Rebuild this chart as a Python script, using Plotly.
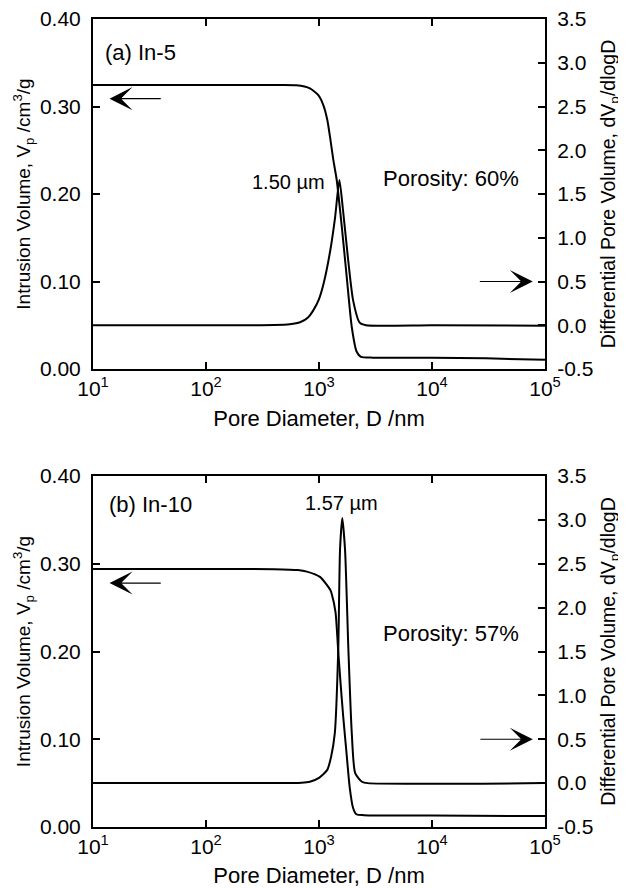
import numpy as np
import plotly.graph_objects as go

# Panel (a) In-5
diam_a_vol = [10, 100, 400, 630, 830, 986, 1092, 1185, 1251, 1339, 1435, 1590, 1760, 1950, 2150, 2350, 3000, 10000, 30000, 100000]
vol_a = [0.3246, 0.3246, 0.3245, 0.3242, 0.3208, 0.313, 0.3017, 0.2846, 0.2655, 0.2389, 0.216, 0.163, 0.105, 0.048, 0.020, 0.014, 0.013, 0.0128, 0.0122, 0.0105]

diam_a_dif = [10, 200, 400, 550, 680, 800, 890, 1000, 1100, 1260, 1390, 1515, 1630, 1810, 2000, 2290, 2600, 10000, 100000]
dif_a = [0.0, 0.0, 0.003, 0.012, 0.035, 0.09, 0.17, 0.30, 0.48, 0.86, 1.24, 1.66, 1.32, 0.75, 0.29, 0.03, 0.0, 0.0, -0.005]

# Panel (b) In-10
diam_b_vol = [10, 100, 400, 650, 780, 1020, 1260, 1300, 1400, 1480, 1560, 1640, 1750, 1870, 2000, 2140, 2500, 10000, 100000]
vol_b = [0.294, 0.294, 0.2938, 0.2928, 0.291, 0.285, 0.270, 0.265, 0.245, 0.200, 0.160, 0.125, 0.085, 0.045, 0.022, 0.0145, 0.0135, 0.013, 0.0125]

diam_b_dif = [10, 400, 700, 830, 1000, 1180, 1280, 1380, 1480, 1535, 1607, 1700, 1820, 1950, 2090, 2400, 2700, 100000]
dif_b = [0.0, 0.0, 0.005, 0.016, 0.06, 0.148, 0.30, 0.57, 1.52, 2.66, 3.02, 2.66, 1.52, 0.57, 0.114, 0.016, 0.0, 0.0]

x_ticks = [10, 100, 1000, 10000, 100000]
x_ticktext = ["10<sup>1</sup>", "10<sup>2</sup>", "10<sup>3</sup>", "10<sup>4</sup>", "10<sup>5</sup>"]
vol_ticks = [0.0, 0.1, 0.2, 0.3, 0.4]
vol_ticktext = ["0.00", "0.10", "0.20", "0.30", "0.40"]
dif_ticks = [-0.5, 0.0, 0.5, 1.0, 1.5, 2.0, 2.5, 3.0, 3.5]
dif_ticktext = ["-0.5", "0.0", "0.5", "1.0", "1.5", "2.0", "2.5", "3.0", "3.5"]

FONT = "Liberation Sans, Arial, sans-serif"
LINE = dict(color="black", width=2, shape="spline", smoothing=0.6)

fig = go.Figure()
fig.add_trace(go.Scatter(x=diam_a_vol, y=vol_a, mode="lines", line=LINE, xaxis="x", yaxis="y", showlegend=False))
fig.add_trace(go.Scatter(x=diam_a_dif, y=dif_a, mode="lines", line=LINE, xaxis="x", yaxis="y2", showlegend=False))
fig.add_trace(go.Scatter(x=diam_b_vol, y=vol_b, mode="lines", line=LINE, xaxis="x2", yaxis="y3", showlegend=False))
fig.add_trace(go.Scatter(x=diam_b_dif, y=dif_b, mode="lines", line=LINE, xaxis="x2", yaxis="y4", showlegend=False))

tick_style = dict(ticks="inside", ticklen=7, tickwidth=1.5, tickcolor="black",
                  showline=True, linecolor="black", linewidth=2, ticklabeloverflow="allow",
                  showgrid=False, zeroline=False, automargin=False, tickfont=dict(size=21))

x_common = dict(tick_style, type="log", range=[1, 5], tickvals=x_ticks, ticktext=x_ticktext, mirror="ticks")
x_title = "Pore Diameter, D /nm"
vol_common = dict(tick_style, range=[0, 0.4], tickvals=vol_ticks, ticktext=vol_ticktext, ticklabelstandoff=6,
                  title=dict(text="Intrusion Volume, V<sub>p</sub> /cm<sup>3</sup>/g", font=dict(size=19), standoff=4))
dif_common = dict(tick_style, range=[-0.5, 3.5], tickvals=dif_ticks, ticktext=dif_ticktext, side="right",
                  ticklabelstandoff=6,
                  title=dict(text="Differential Pore Volume, dV<sub>p</sub>/dlogD", font=dict(size=19.5), standoff=9))

top_dom = [0.5668, 1.0]
bot_dom = [0.0, 0.4344]

# page body has an 8px margin, so the figure is 8px smaller than the window
fig.update_layout(
    width=618, height=880,
    margin=dict(l=85, r=81, t=11, b=61),
    paper_bgcolor="white", plot_bgcolor="white",
    font=dict(family=FONT, color="black"),
    xaxis=dict(x_common, anchor="y", title=dict(text=x_title, font=dict(size=22), standoff=11)),
    yaxis=dict(vol_common, domain=top_dom, anchor="x"),
    yaxis2=dict(dif_common, domain=top_dom, anchor="x", overlaying="y"),
    xaxis2=dict(x_common, anchor="y3", title=dict(text=x_title, font=dict(size=22), standoff=16)),
    yaxis3=dict(vol_common, domain=bot_dom, anchor="x2"),
    yaxis4=dict(dif_common, domain=bot_dom, anchor="x2", overlaying="y3"),
)

def arrow(x_tail, x_head, y, xref, yref):
    return dict(x=np.log10(x_head), y=y, ax=np.log10(x_tail), ay=y, xref=xref, yref=yref,
                axref=xref, ayref=yref, text="", showarrow=True, arrowhead=3,
                arrowsize=3.2, arrowwidth=1.2, arrowcolor="black")

def label(text, x, y, xref, yref, size, xanchor="left"):
    return dict(x=np.log10(x), y=y, xref=xref, yref=yref, text=text, showarrow=False,
                xanchor=xanchor, yanchor="middle", font=dict(size=size))

annotations = [
    arrow(41, 14, 0.309, "x", "y"),
    arrow(25700, 78000, 0.5, "x", "y2"),
    arrow(41, 14, 0.278, "x2", "y3"),
    arrow(26000, 78000, 0.5, "x2", "y4"),
    label("(a) In-5", 12.3, 0.362, "x", "y", 22),
    label("1.50 µm", 1175, 0.214, "x", "y", 20, "right"),
    label("Porosity: 60%", 3550, 0.218, "x", "y", 22),
    label("(b) In-10", 13.3, 0.367, "x2", "y3", 22),
    label("1.57 µm", 1570, 0.369, "x2", "y3", 20, "center"),
    label("Porosity: 57%", 3550, 0.221, "x2", "y3", 22),
]
fig.update_layout(annotations=annotations)

fig.write_html("out.html")
